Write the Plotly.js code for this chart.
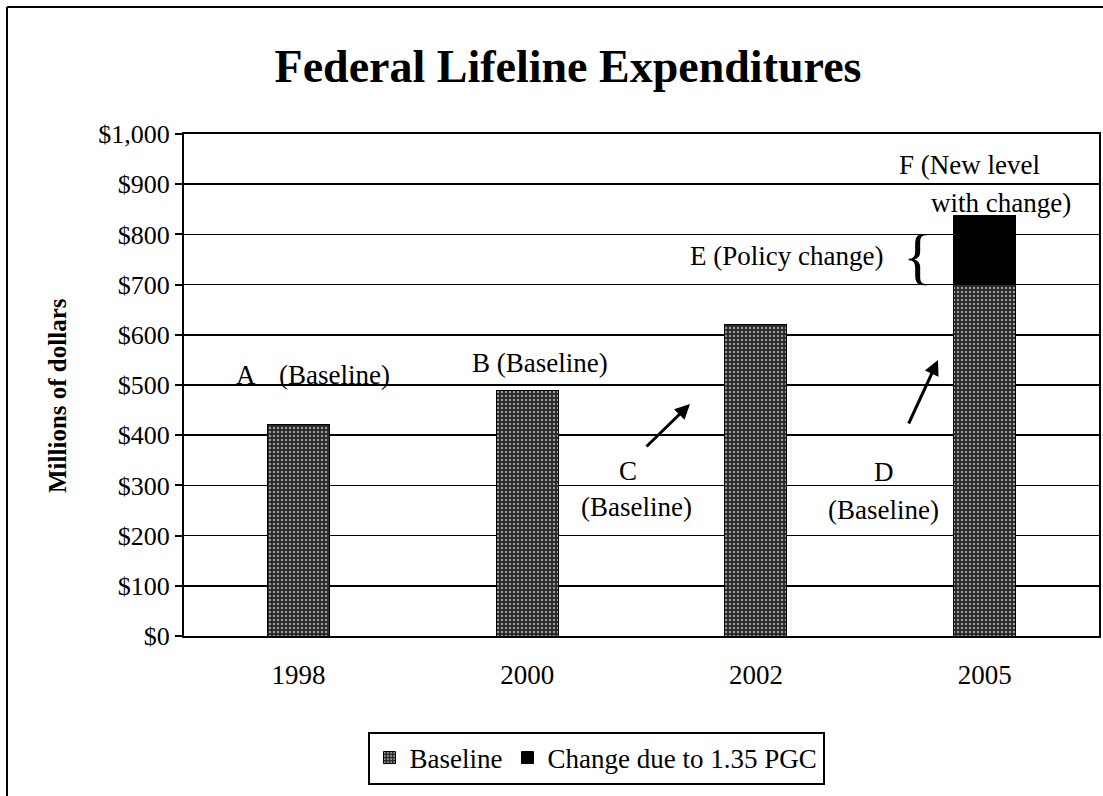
<!DOCTYPE html>
<html>
<head>
<meta charset="utf-8">
<script src="https://cdn.plot.ly/plotly-3.0.1.min.js"></script>
<style>
html,body{margin:0;padding:0;background:#fff;}
#chart{width:1103px;height:796px;}
</style>
</head>
<body>
<div id="chart"></div>
<script>
// ---- data ----
var years = ['1998', '2000', '2002', '2005'];
var baseline = [421, 489, 621, 700];
var change = [0, 0, 0, 138];
var seriesNames = ['Baseline', 'Change due to 1.35 PGC'];
var yTicks = [0, 100, 200, 300, 400, 500, 600, 700, 800, 900, 1000];
var yTickLabels = ['$0', '$100', '$200', '$300', '$400', '$500', '$600', '$700', '$800', '$900', '$1,000'];

// ---- layout helpers (plot area in pixels) ----
var L = 184, R = 1099, T = 134, B = 636;
function px(x) { return (x - L) / (R - L); }
function py(y) { return (B - y) / (B - T); }

var FONT = 'Liberation Serif, Times New Roman, serif';

var traces = [
  {
    type: 'bar', x: years, y: baseline, name: seriesNames[0],
    marker: {
      color: '#262626',
      line: {color: '#000', width: 1},
      pattern: {shape: '.', bgcolor: '#262626', fgcolor: '#9a9a9a', size: 4, solidity: 0.3, fillmode: 'replace'}
    }
  },
  {
    type: 'bar', x: years, y: change, name: seriesNames[1],
    marker: {color: '#000', line: {color: '#000', width: 1}}
  }
];

function txt(text, x, y, size, extra) {
  var a = {text: text, x: px(x), y: py(y), xref: 'paper', yref: 'paper',
    showarrow: false, xanchor: 'center', yanchor: 'middle',
    font: {family: FONT, size: size || 27, color: '#000'}};
  if (extra) for (var k in extra) a[k] = extra[k];
  return a;
}
function arrow(tipX, tipY, tailX, tailY) {
  return {text: '', x: px(tipX), y: py(tipY), xref: 'paper', yref: 'paper',
    showarrow: true, ax: tailX - tipX, ay: tailY - tipY,
    arrowhead: 2, arrowsize: 1, arrowwidth: 3, arrowcolor: '#000', standoff: 0};
}

var annotations = [
  txt('A', 246, 375),
  txt('(Baseline)', 334, 375),
  txt('B (Baseline)', 540, 363),
  txt('C', 628, 471),
  txt('(Baseline)', 636, 507),
  txt('D', 884, 472),
  txt('(Baseline)', 883, 510),
  txt('E (Policy change)', 786, 256),
  txt('{', 918, 256, 62),
  txt('F (New level', 969, 165),
  txt('with change)', 1001, 203),
  arrow(690, 404, 645, 448),
  arrow(938, 360, 908, 425),
  txt('<b>Millions of dollars</b>', 57, 396, 25, {textangle: -90})
];

var layout = {
  width: 1103, height: 796,
  margin: {l: L, r: 1103 - R, t: T, b: 796 - B, pad: 0},
  paper_bgcolor: '#fff', plot_bgcolor: '#fff',
  barmode: 'stack', bargap: 0.73,
  showlegend: true,
  title: {
    text: '<b>Federal Lifeline Expenditures</b>',
    font: {family: FONT, size: 46, color: '#000'},
    x: 568 / 1103, xref: 'container', xanchor: 'center',
    y: 1 - 66 / 796, yref: 'container', yanchor: 'middle'
  },
  xaxis: {
    type: 'category', categoryorder: 'array', categoryarray: years,
    showline: true, linecolor: '#000', linewidth: 2, mirror: true,
    ticks: '', showgrid: false, zeroline: false,
    tickfont: {family: FONT, size: 27, color: '#000'},
    ticklabelstandoff: 14
  },
  yaxis: {
    range: [0, 1000], tickmode: 'array', tickvals: yTicks, ticktext: yTickLabels,
    showline: true, linecolor: '#000', linewidth: 2, mirror: true,
    ticks: 'outside', ticklen: 7, tickwidth: 2, tickcolor: '#000',
    showgrid: true, gridcolor: '#000', gridwidth: 1.5, zeroline: false,
    tickfont: {family: FONT, size: 26, color: '#000'}
  },
  legend: {
    orientation: 'h', x: px(596), y: py(758), xanchor: 'center', yanchor: 'middle',
    xref: 'paper', yref: 'paper',
    bordercolor: '#000', borderwidth: 2, bgcolor: '#fff',
    font: {family: FONT, size: 27, color: '#000'},
    itemwidth: 30, tracegroupgap: 0, traceorder: 'normal'
  },
  annotations: annotations,
  shapes: [
    {type: 'line', xref: 'paper', yref: 'paper', x0: px(7), x1: px(7), y0: py(7), y1: py(800), line: {color: '#000', width: 2}},
    {type: 'line', xref: 'paper', yref: 'paper', x0: px(7), x1: px(1110), y0: py(7), y1: py(7), line: {color: '#000', width: 2}}
  ]
};

Plotly.newPlot('chart', traces, layout, {displayModeBar: false, staticPlot: true});
</script>
</body>
</html>
